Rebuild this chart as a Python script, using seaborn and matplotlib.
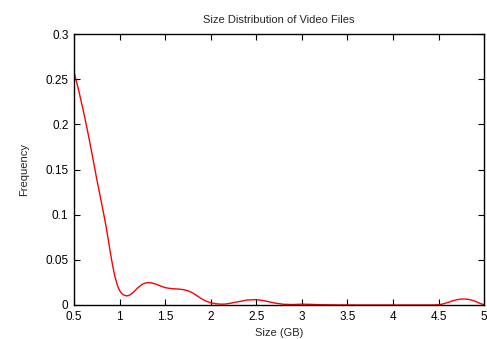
import matplotlib
matplotlib.use("Agg")
import matplotlib.pyplot as plt
import seaborn as sns
import pandas as pd

size_gb = [0.5, 0.55, 0.6, 0.65, 0.7, 0.75, 0.8, 0.85, 0.875, 0.9, 0.925, 0.95, 0.975,
           1.0, 1.025, 1.05, 1.075, 1.1, 1.125, 1.15, 1.2, 1.25, 1.3, 1.35, 1.4, 1.45,
           1.5, 1.55, 1.6, 1.65, 1.7, 1.75, 1.8, 1.85, 1.9, 1.95,
           2.0, 2.05, 2.1, 2.15, 2.2, 2.3, 2.4, 2.5, 2.6, 2.7,
           2.8, 2.9, 3.0, 3.1, 3.2, 3.4, 3.6, 4.0, 4.4, 4.5,
           4.55, 4.6, 4.65, 4.7, 4.75, 4.8, 4.85, 4.9, 4.95, 5.0]
frequency = [0.258, 0.238, 0.216, 0.192, 0.166, 0.139, 0.114, 0.088, 0.073, 0.057, 0.043, 0.031, 0.022,
             0.016, 0.0125, 0.0108, 0.0101, 0.0105, 0.012, 0.014, 0.019, 0.023, 0.0248, 0.0245, 0.023, 0.021,
             0.0192, 0.0184, 0.0179, 0.0176, 0.0170, 0.0158, 0.0135, 0.0102, 0.0068, 0.0042,
             0.0025, 0.0015, 0.001, 0.001, 0.0016, 0.0036, 0.0055, 0.006, 0.0045, 0.0022,
             0.0008, 0.0005, 0.0009, 0.0007, 0.0003, 0.0001, 0.0, 0.0, 0.0, 0.0002,
             0.0012, 0.0027, 0.0045, 0.0058, 0.0066, 0.0066, 0.0058, 0.0042, 0.002, 0.0003]
x_ticks = [0.5, 1, 1.5, 2, 2.5, 3, 3.5, 4, 4.5, 5]
x_tick_labels = ["0.5", "1", "1.5", "2", "2.5", "3", "3.5", "4", "4.5", "5"]
y_ticks = [0, 0.05, 0.1, 0.15, 0.2, 0.25, 0.3]
y_tick_labels = ["0", "0.05", "0.1", "0.15", "0.2", "0.25", "0.3"]

df = pd.DataFrame({"size": size_gb, "freq": frequency})

sns.set_style("ticks")
plt.rcParams["font.family"] = ["Liberation Sans", "DejaVu Sans"]

fig = plt.figure(figsize=(4.87, 3.39), dpi=100)
ax = fig.add_axes([0.152, 0.1003, 0.842, 0.7994])
sns.lineplot(data=df, x="size", y="freq", color="#ff0000", linewidth=1.0, ax=ax)

ax.set_xlim(0.5, 5)
ax.set_ylim(0, 0.3)
ax.set_xticks(x_ticks)
ax.set_xticklabels(x_tick_labels)
ax.set_yticks(y_ticks)
ax.set_yticklabels(y_tick_labels)
ax.tick_params(direction="in", length=4.5, width=0.8, top=True, right=True,
               labelsize=8.5, colors="black", pad=4)
for s in ax.spines.values():
    s.set_visible(True)
    s.set_linewidth(1.0)
    s.set_color("black")
ax.set_xlabel("Size (GB)", fontsize=8, labelpad=4)
ax.set_ylabel("Frequency", fontsize=8, labelpad=12)
ax.set_title("Size Distribution of Video Files", fontsize=8, pad=8)

fig.savefig("out.png", dpi=100)
